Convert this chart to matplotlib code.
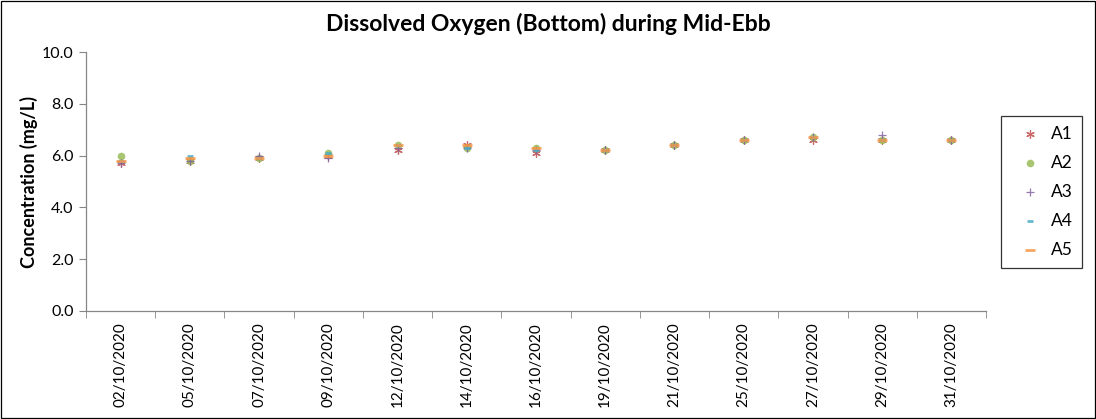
import matplotlib
matplotlib.use("Agg")
import matplotlib.pyplot as plt
from matplotlib.patches import Rectangle
import numpy as np

dates = ["02/10/2020", "05/10/2020", "07/10/2020", "09/10/2020", "12/10/2020",
         "14/10/2020", "16/10/2020", "19/10/2020", "21/10/2020", "25/10/2020",
         "27/10/2020", "29/10/2020", "31/10/2020"]
a1 = [5.7, 5.8, 5.9, 6.0, 6.2, 6.4, 6.1, 6.2, 6.4, 6.6, 6.6, 6.6, 6.6]
a2 = [6.0, 5.8, 5.9, 6.1, 6.4, 6.3, 6.3, 6.2, 6.4, 6.6, 6.7, 6.6, 6.6]
a3 = [5.7, 5.8, 6.0, 5.9, 6.3, 6.3, 6.2, 6.2, 6.4, 6.6, 6.7, 6.8, 6.6]
a4 = [5.8, 6.0, 5.9, 6.1, 6.4, 6.3, 6.2, 6.2, 6.4, 6.6, 6.7, 6.6, 6.6]
a5 = [5.8, 5.9, 5.9, 6.0, 6.4, 6.4, 6.3, 6.2, 6.4, 6.6, 6.7, 6.6, 6.6]
series_names = ["A1", "A2", "A3", "A4", "A5"]
yticks = [0, 2, 4, 6, 8, 10]

plt.rcParams['font.family'] = ['Lato', 'DejaVu Sans']

fig = plt.figure(figsize=(10.96, 4.19), dpi=100)
ax = fig.add_axes([86/1096, 1 - 311/419, 900/1096, 259/419])

x = np.arange(len(dates))
styles = [
    dict(marker=(6, 2, 0), color='#C0504D', s=30, lw=0.9),
    dict(marker='o', color='#9BBB59', s=30, lw=0),
    dict(marker='+', color='#8064A2', s=40, lw=0.9),
    dict(marker='_', color='#4BACC6', s=25, lw=2),
    dict(marker='_', color='#F79646', s=50, lw=2),
]
data = [a1, a2, a3, a4, a5]
for name, vals, st in zip(series_names, data, styles):
    ax.scatter(x, vals, marker=st['marker'], c=st['color'], s=st['s'],
               linewidths=st['lw'], label=name, zorder=3, alpha=0.85)

ax.set_xlim(-0.5, len(dates) - 0.5)
ax.set_ylim(0, 10)
ax.set_yticks(yticks)
ax.set_yticklabels([f"{v:.1f}" for v in yticks], fontsize=11.5)
ax.set_xticks(x)
ax.set_xticklabels(dates, rotation=90, fontsize=11)
ax.tick_params(axis='x', length=0, pad=8)
ax.set_xticks(np.arange(-0.5, len(dates), 1), minor=True)
ax.tick_params(axis='x', which='minor', length=5, color='#868686', direction='out')
ax.tick_params(axis='y', length=5, color='#868686', direction='out', pad=4)
for side in ['top', 'right']:
    ax.spines[side].set_visible(False)
for side in ['left', 'bottom']:
    ax.spines[side].set_color('#868686')
    ax.spines[side].set_linewidth(0.9)

ax.set_ylabel("Concentration (mg/L)", fontsize=13, fontweight='bold', labelpad=3)
fig.text(0.5, 1 - 24/419, "Dissolved Oxygen (Bottom) during Mid-Ebb",
         ha='center', va='center', fontsize=16.5, fontweight='bold')

leg = ax.legend(loc='center left', bbox_to_anchor=(1001/1096, 1 - 192/419),
                bbox_transform=fig.transFigure, frameon=True, fancybox=False,
                edgecolor='black', fontsize=12.5, labelspacing=0.75,
                handletextpad=0.1, handlelength=2.2, borderpad=0.55,
                borderaxespad=0, markerscale=1.0)
leg.get_frame().set_linewidth(0.9)

fig.patches.append(Rectangle((1/1096, 1/419), 1 - 2/1096, 1 - 2/419,
                             transform=fig.transFigure, fill=False,
                             edgecolor='black', linewidth=0.9))

fig.savefig("out.png", dpi=100)
